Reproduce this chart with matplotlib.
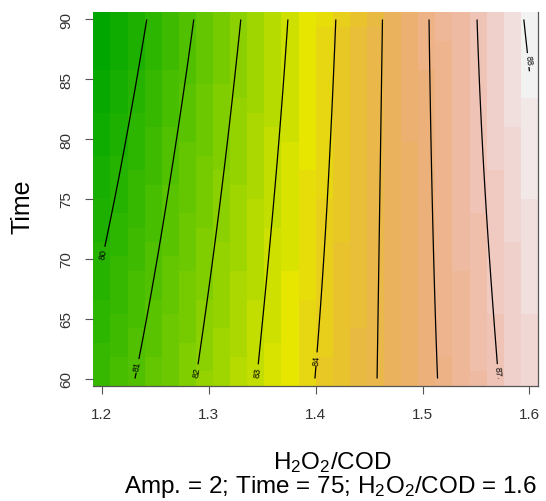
import numpy as np
import colorsys
import matplotlib
matplotlib.use("Agg")
import matplotlib.pyplot as plt
from matplotlib.colors import ListedColormap, Normalize

plt.rcParams["font.family"] = ["Liberation Sans", "DejaVu Sans"]
plt.rcParams["mathtext.fontset"] = "custom"
plt.rcParams["mathtext.rm"] = "Liberation Sans"
plt.rcParams["mathtext.it"] = "Liberation Sans:italic"

# ---------------- data ----------------
contour_levels = [80, 81, 82, 83, 84, 85, 86, 87, 88]
# H2O2/COD position where each contour crosses Time = 60, 75, 90 (nan = not crossing)
cross_t60 = [np.nan, 1.231, 1.288, 1.345, 1.399, 1.4575, 1.514, 1.571, np.nan]
cross_t75 = [1.212, 1.261, 1.311, 1.361, 1.411, 1.460, 1.509, 1.5585, np.nan]
cross_t90 = [1.242, 1.286, 1.330, 1.374, 1.419, 1.4625, 1.506, 1.551, 1.5947]
read_times = [60, 75, 90]
z_at_left = [80.45, 79.76, 79.04]    # response at H2O2/COD = 1.2
z_at_right = [87.51, 87.75, 88.12]   # response at H2O2/COD = 1.6

labelled_levels = [80, 81, 82, 83, 84, 87, 88]
unlabelled_levels = [85, 86]
label_pos = [(1.2035, 70.4), (1.236, 61.0), (1.289, 60.6), (1.346, 60.6),
             (1.401, 61.6), (1.568, 60.6), (1.598, 86.6)]

x_ticks = [1.2, 1.3, 1.4, 1.5, 1.6]
y_ticks = [60, 65, 70, 75, 80, 85, 90]

# grid of the response surface (26 x 26 as in the original)
x_grid = np.linspace(1.2, 1.6, 26)
t_grid = np.linspace(60, 90, 26)


def row_values(cross, zl, zr):
    xs = [1.2] + [c for c in cross if not np.isnan(c)] + [1.6]
    zs = [zl] + [l for c, l in zip(cross, contour_levels) if not np.isnan(c)] + [zr]
    return np.interp(x_grid, xs, zs)


rows = [row_values(c, zl, zr) for c, zl, zr in
        zip([cross_t60, cross_t75, cross_t90], z_at_left, z_at_right)]
t0, t1, t2 = read_times
T = t_grid[:, None]
L0 = (T - t1) * (T - t2) / ((t0 - t1) * (t0 - t2))
L1 = (T - t0) * (T - t2) / ((t1 - t0) * (t1 - t2))
L2 = (T - t0) * (T - t1) / ((t2 - t0) * (t2 - t1))
Z = L0 * rows[0] + L1 * rows[1] + L2 * rows[2]


def terrain_colors(n):
    k = n // 2
    h = np.concatenate([np.linspace(4 / 12, 2 / 12, k), np.linspace(2 / 12, 0, n - k + 1)[1:]])
    s = np.concatenate([np.linspace(1, 1, k), np.linspace(1, 0, n - k + 1)[1:]])
    v = np.concatenate([np.linspace(0.65, 0.9, k), np.linspace(0.9, 0.95, n - k + 1)[1:]])
    return [colorsys.hsv_to_rgb(a, b, c) for a, b, c in zip(h, s, v)]


cmap = ListedColormap(terrain_colors(50))

# ---------------- figure ----------------
W, H = 546, 502
fig = plt.figure(figsize=(W / 100, H / 100), dpi=100)
ax = fig.add_axes([93.3 / W, 1 - 386.7 / H, (538 - 93.3) / W, (386.7 - 13.3) / H])

ax.pcolormesh(x_grid, t_grid, Z, cmap=cmap, shading="nearest",
              norm=Normalize(Z.min(), Z.max()), rasterized=True)
ax.contour(x_grid, t_grid, Z, levels=unlabelled_levels, colors="black", linewidths=0.9)
cs = ax.contour(x_grid, t_grid, Z, levels=labelled_levels, colors="black", linewidths=0.9)
ax.clabel(cs, manual=label_pos, inline=True, fontsize=6.5, inline_spacing=2, fmt="%d")

ax.set_xlim(1.192, 1.608)
ax.set_ylim(59.4, 90.6)

for side in ["left", "top"]:
    ax.spines[side].set_visible(False)
for side in ["right", "bottom"]:
    ax.spines[side].set_color("#555555")
    ax.spines[side].set_linewidth(0.9)

ax.set_xticks(x_ticks)
ax.set_xticklabels([f"{v:.1f}" for v in x_ticks])
ax.set_yticks(y_ticks)
ax.set_yticklabels([str(v) for v in y_ticks], rotation=90, va="center")
ax.tick_params(axis="both", direction="out", length=5.8, width=0.8,
               color="#555555", labelsize=11, labelcolor="#333333")
ax.tick_params(axis="x", pad=9.5)
ax.tick_params(axis="y", pad=8.7)

fig.text(23 / W, 1 - 207 / H, "Time", rotation=90, ha="center", va="center",
         fontsize=18)
fig.text(332 / W, 1 - 469 / H, r"H$_{2}$O$_{2}$/COD", ha="center", va="baseline",
         fontsize=17.5)
fig.text(331 / W, 1 - 493 / H, r"Amp. = 2; Time = 75; H$_{2}$O$_{2}$/COD = 1.6",
         ha="center", va="baseline", fontsize=17.5)

fig.savefig("out.png", dpi=100)
